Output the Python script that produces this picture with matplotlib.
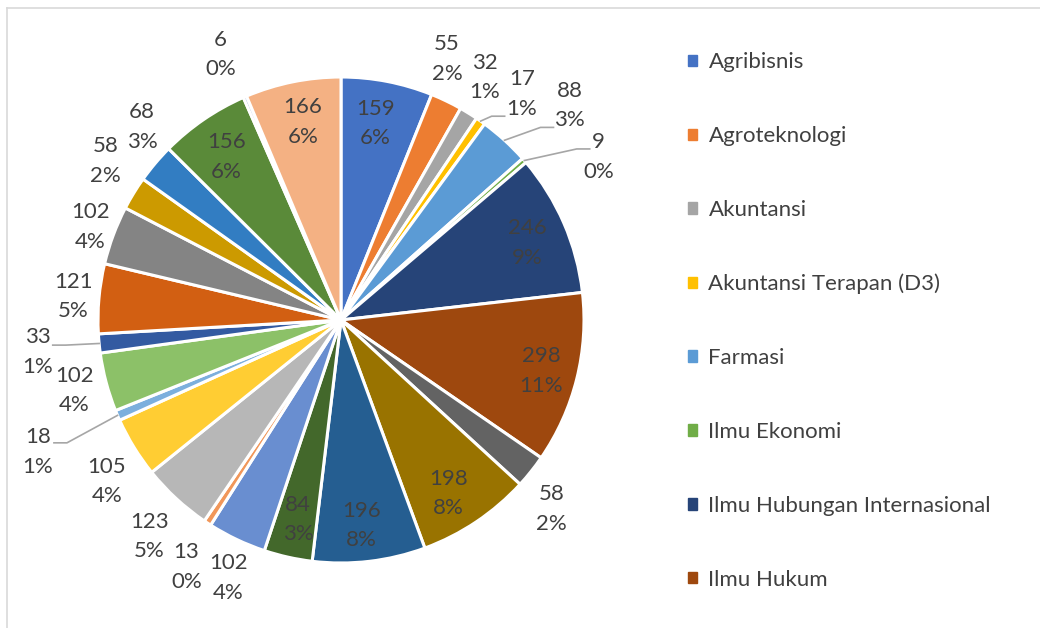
import matplotlib.pyplot as plt
import matplotlib.patches as mpatches
import numpy as np

# data (program studi, jumlah)
categories = ['Agribisnis', 'Agroteknologi', 'Akuntansi', 'Akuntansi Terapan (D3)',
              'Farmasi', 'Ilmu Ekonomi', 'Ilmu Hubungan Internasional', 'Ilmu Hukum'] + \
             [f'Prodi {i}' for i in range(9, 27)]
values = [159, 55, 32, 17, 88, 9, 246, 298, 58, 198, 196, 84, 102,
          13, 123, 105, 18, 102, 33, 121, 102, 58, 68, 156, 6, 166]

# office palette (accents, darker, lighter ...)
colors = ['#4472C4', '#ED7D31', '#A5A5A5', '#FFC000', '#5B9BD5', '#70AD47',
          '#264478', '#9E480E', '#636363', '#997300', '#255E91', '#43682B',
          '#698ED0', '#F1975A', '#B7B7B7', '#FFCD33', '#7CAFDD', '#8CC168',
          '#335AA1', '#D25F12', '#848484', '#CC9A00', '#327DC2', '#5A8A39',
          '#8FAADC', '#F4B183']

# label placement: radius (in pie radii) and angular shift (deg, clockwise)
label_r = [0.82, 1.16, 1.16, 1.19, 1.29, 1.255, 0.83, 0.85, 1.165, 0.84,
           0.85, 0.84, 1.16, 1.20, 1.19, 1.17, 1.36, 1.135, 1.255, 1.105,
           1.10, 1.17, 1.14, 0.82, 1.20, 0.83]
label_shift = [-1.1, -3.6, -1, 3.6, 4.5, 8.7, 1, 0.3, 3.4, 2,
               1, -0.5, -1.8, -1.3, -1.2, -3, -0.4, 0, -0.5, 0,
               0, 2.6, 4, -0.6, -1.1, 0.5]
# leader line end, offset from label centre in px (dx, dy screen)
leaders = {3: (-17, 22), 4: (-16, 22), 5: (-9, -8), 16: (16, -9), 18: (15, -7)}

W, H = 1040, 628
cx, cy, R = 341, H - 320, 243
text_col = '#404040'
font = 'Lato'
fs = 16

fig = plt.figure(figsize=(W / 100, H / 100), dpi=100)
ax = fig.add_axes([0, 0, 1, 1])

wedges, _ = ax.pie(values, colors=colors, startangle=90, counterclock=False,
                   center=(cx, cy), radius=R,
                   wedgeprops=dict(edgecolor='white', linewidth=2.2))

total = sum(values)
for i, (w, v) in enumerate(zip(wedges, values)):
    mid = (w.theta1 + w.theta2) / 2
    ang = np.deg2rad(mid - label_shift[i])
    lx = cx + label_r[i] * R * np.cos(ang)
    ly = cy + label_r[i] * R * np.sin(ang)
    pct = round(v / total * 100)
    ax.text(lx, ly, f'{v}\n{pct}%', ha='center', va='center', fontsize=fs,
            color=text_col, family=font, linespacing=1.6)
    if i in leaders:
        dx, dy = leaders[i]
        ex, ey = lx + dx, ly - dy
        side = 1 if lx > cx else -1
        sx = cx + R * np.cos(np.deg2rad(mid))
        sy = cy + R * np.sin(np.deg2rad(mid))
        ax.plot([sx, ex - side * 13, ex], [sy, ey, ey], color='#A6A6A6', lw=1.2)

# legend shows only the first 8 entries
handles = [mpatches.Patch(color=c) for c in colors[:8]]
ax.legend(handles, categories[:8], loc='center left',
          bbox_to_anchor=(688 / W, (H - 321) / H), bbox_transform=fig.transFigure,
          frameon=False, prop={'family': font, 'size': fs}, labelcolor=text_col,
          handlelength=0.42, handleheight=0.42, handletextpad=0.5,
          labelspacing=2.42, borderpad=0, borderaxespad=0)

# chart area border (only top and left visible)
ax.plot([7, W], [H - 8, H - 8], color='#D9D9D9', lw=1.2)
ax.plot([7, 7], [0, H - 8], color='#D9D9D9', lw=1.2)

ax.set_xlim(0, W)
ax.set_ylim(0, H)
ax.set_aspect('equal')
ax.axis('off')

fig.savefig('out.png', dpi=100, facecolor='white')
